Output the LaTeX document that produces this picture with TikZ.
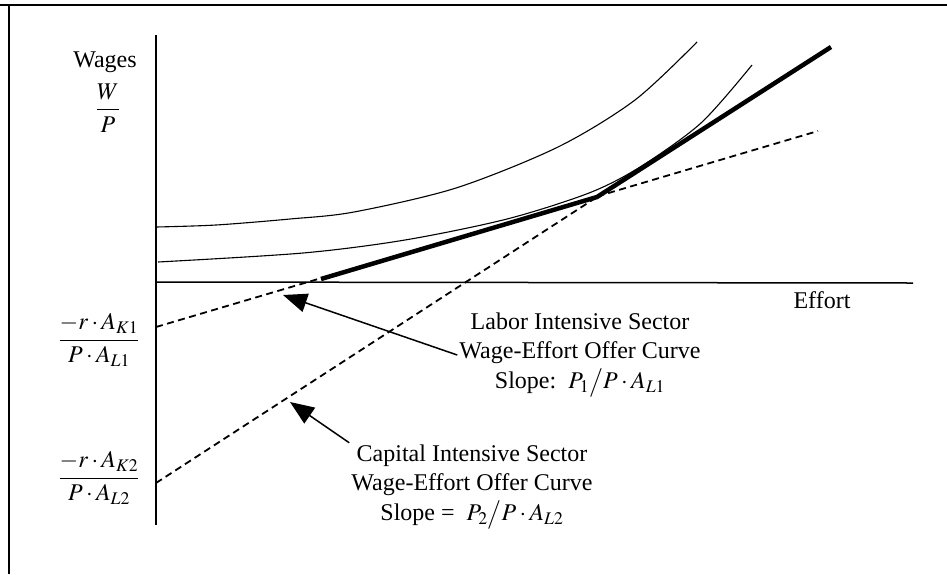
\documentclass[tikz,border=0pt]{standalone}
\usepackage{mathptmx}
\usepackage{fontspec}
\setmainfont{Liberation Serif}
\usetikzlibrary{arrows.meta}

\begin{document}
\begin{tikzpicture}[x=1pt,y=-1pt,
    txt/.style={font=\fontsize{24}{29}\selectfont, inner sep=2pt},
    offer/.style={line width=1.8pt, dash pattern=on 7pt off 4.5pt},
    pointer/.style={line width=1.5pt, -{Triangle[length=24pt,width=19pt]}}]
    \useasboundingbox (0,0) rectangle (947,574);

    %frame
    \draw[line width=1.5pt] (0,5) -- (947,5);
    \draw[line width=1.5pt] (9,5) -- (9,574);

    %axis
    \draw[line width=1.5pt] (156,35) -- (156,525);
    \draw[line width=1.5pt] (156,282) -- (913,283);
    \node[txt] (effort) at (822,300) {Effort};
    \node[txt] (wages) at (105,62) {Wages};
    \node[txt] (wp) at (108,108) {$\displaystyle\frac{W}{P}$};

    %offer curves (dashed)
    \coordinate (lint) at (156,327);
    \coordinate (kint) at (156,483);
    \coordinate (kink) at (597,197);
    \coordinate (lend) at (818,131);
    \draw[offer] (lint) -- (lend);
    \draw[offer] (kint) -- (kink);

    %indifference curves
    \draw[line width=1.1pt] plot[smooth] coordinates {(156,227) (216,225) (290,219) (354,212) (456,188) (558,147) (635,100) (697,42)};
    \draw[line width=1.1pt] plot[smooth] coordinates {(158,262) (303,253) (405,240) (507,219) (589,193) (640,167) (701,123) (752,65)};

    %envelope (solid)
    \coordinate (start) at (321,279);
    \coordinate (top) at (831,47);
    \draw[line width=4.5pt] (start) -- (kink) -- (top);

    %labels
    \node[txt] (kone) at (99,340) {$\displaystyle\frac{-r\cdot A_{K1}}{P\cdot A_{L1}}$};
    \node[txt] (ktwo) at (99,478) {$\displaystyle\frac{-r\cdot A_{K2}}{P\cdot A_{L2}}$};
    \node[txt, align=center] (labor) at (580,355) {Labor Intensive Sector\\Wage-Effort Offer Curve\\[1pt]Slope:\ \ $P_{1}\big/P\cdot A_{L1}$};
    \node[txt, align=center] (capital) at (472,487) {Capital Intensive Sector\\Wage-Effort Offer Curve\\[1pt]Slope =\ \ $P_{2}\big/P\cdot A_{L2}$};

    %arrows
    \coordinate (tipone) at (283,295);
    \coordinate (tiptwo) at (290,402);
    \draw[pointer] (labor.west) -- (tipone);
    \draw[pointer] (capital.north west) -- (tiptwo);
\end{tikzpicture}
\end{document}
